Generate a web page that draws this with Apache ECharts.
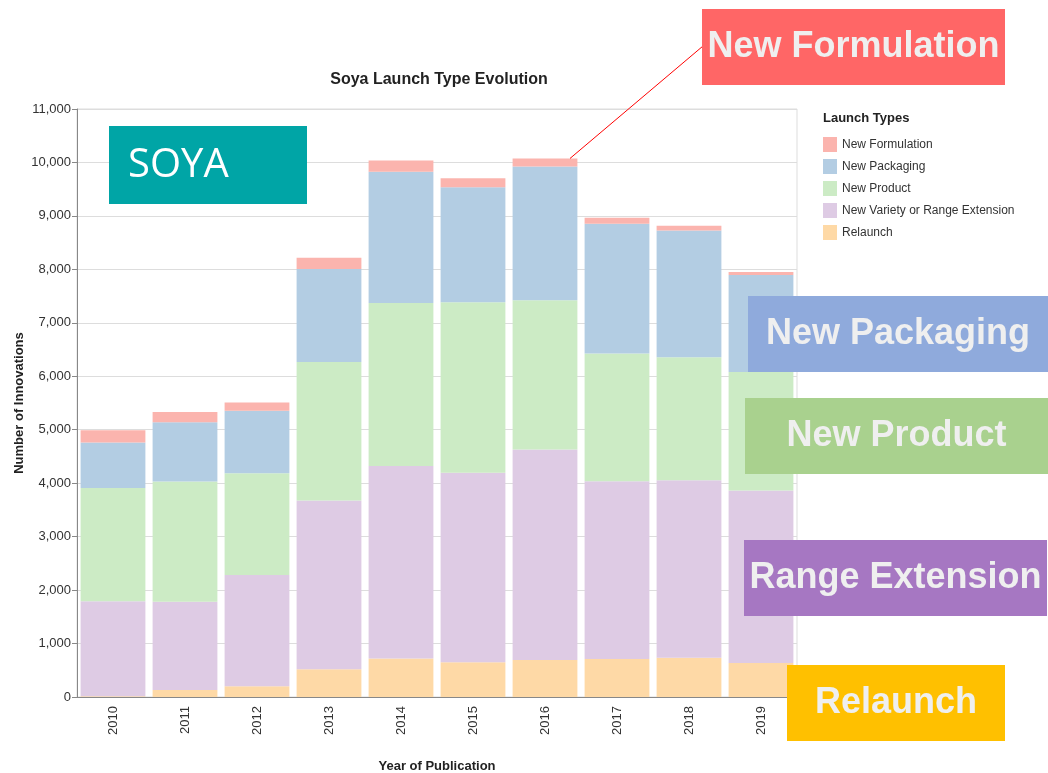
<!DOCTYPE html>
<html>
<head>
<meta charset="utf-8">
<script src="https://cdn.jsdelivr.net/npm/echarts@6/dist/echarts.min.js"></script>
<style>
  html, body { margin: 0; padding: 0; background: #fff; }
  #chart { width: 1048px; height: 773px; }
</style>
</head>
<body>
<div id="chart"></div>
<script>
// Soya launch types per year
const years = ["2010", "2011", "2012", "2013", "2014", "2015", "2016", "2017", "2018", "2019"];
const relaunch = [15, 130, 200, 517, 720, 650, 690, 710, 735, 636];
const variety = [1775, 1650, 2080, 3160, 3600, 3545, 3940, 3327, 3321, 3228];
const product = [2120, 2250, 1905, 2590, 3050, 3190, 2790, 2387, 2299, 2216];
const packaging = [850, 1110, 1170, 1740, 2455, 2150, 2505, 2430, 2374, 1814];
const formulation = [230, 190, 155, 210, 210, 170, 150, 112, 87, 56];
const yTicks = { min: 0, max: 11000, interval: 1000 };

const FONT = "Liberation Sans, Arial, sans-serif";
const labelColor = "#333";

const seriesDefs = [
  { name: "Relaunch", data: relaunch, color: "#fed9a6" },
  { name: "New Variety or Range Extension", data: variety, color: "#decbe4" },
  { name: "New Product", data: product, color: "#ccebc5" },
  { name: "New Packaging", data: packaging, color: "#b3cde3" },
  { name: "New Formulation", data: formulation, color: "#fbb4ae" },
];

const chart = echarts.init(document.getElementById("chart"), null, { renderer: "canvas" });

// coloured call-out boxes laid over the chart
function callout(x, y, w, h, fill, text, opts) {
  opts = opts || {};
  return [
    { type: "rect", zlevel: 1, z: 100, shape: { x: x, y: y, width: w, height: h }, style: { fill: fill } },
    {
      type: "text",
      zlevel: 1,
      z: 101,
      x: opts.left != null ? x + opts.left : x + w / 2,
      y: y + h / 2 + (opts.dy || 0),
      style: {
        text: text,
        fill: opts.color || "#efefef",
        font: opts.font || "bold 36px " + FONT,
        textAlign: opts.left != null ? "left" : "center",
        textVerticalAlign: "middle",
      },
    },
  ];
}

const option = {
  animation: false,
  grid: {
    left: 77, right: 251, top: 109, bottom: 76,
    outerBoundsMode: "none",
    containLabel: false,
    show: true, borderColor: "#ddd", borderWidth: 1,
  },
  legend: {
    orient: "vertical",
    left: 823,
    top: 137,
    padding: 0,
    icon: "rect",
    itemWidth: 14,
    itemHeight: 15,
    itemGap: 7,
    data: ["New Formulation", "New Packaging", "New Product", "New Variety or Range Extension", "Relaunch"],
    textStyle: { fontFamily: FONT, fontSize: 12, color: labelColor },
    selectedMode: false,
  },
  xAxis: {
    type: "category",
    data: years,
    name: "Year of Publication",
    nameLocation: "middle",
    nameGap: 63,
    nameTextStyle: { fontFamily: FONT, fontSize: 13, fontWeight: "bold", color: "#222" },
    axisLine: { lineStyle: { color: "#888" } },
    axisTick: { alignWithLabel: true, length: 5, lineStyle: { color: "#888" } },
    axisLabel: { rotate: 90, margin: 9, fontFamily: FONT, fontSize: 13, color: labelColor },
  },
  yAxis: {
    type: "value",
    min: yTicks.min,
    max: yTicks.max,
    interval: yTicks.interval,
    name: "Number of Innovations",
    nameLocation: "middle",
    nameGap: 51,
    nameMoveOverlap: false,
    nameTextStyle: { fontFamily: FONT, fontSize: 13, fontWeight: "bold", color: "#222" },
    axisLine: { show: true, lineStyle: { color: "#888" } },
    axisTick: { show: true, length: 5, lineStyle: { color: "#888" } },
    axisLabel: {
      margin: 6,
      fontFamily: FONT,
      fontSize: 13,
      color: labelColor,
      formatter: (v) => v.toLocaleString("en-US"),
    },
    splitLine: { lineStyle: { color: "#ddd" } },
  },
  series: seriesDefs.map((s) => ({
    name: s.name,
    type: "bar",
    stack: "total",
    data: s.data,
    barCategoryGap: "10%",
    itemStyle: { color: s.color },
    emphasis: { disabled: true },
  })),
  graphic: [
    {
      type: "text",
      x: 439,
      y: 80,
      style: {
        text: "Soya Launch Type Evolution",
        font: "bold 16px " + FONT,
        fill: "#222",
        textAlign: "center",
        textVerticalAlign: "middle",
      },
    },
    {
      type: "text",
      x: 823,
      y: 118,
      style: {
        text: "Launch Types",
        font: "bold 13px " + FONT,
        fill: "#222",
        textAlign: "left",
        textVerticalAlign: "middle",
      },
    },
  ],
};

chart.setOption(option);

// leader line from the 2016 bar top to the "New Formulation" box
const idx2016 = years.indexOf("2016");
const total2016 = relaunch[idx2016] + variety[idx2016] + product[idx2016] + packaging[idx2016] + formulation[idx2016];
const top2016 = chart.convertToPixel({ gridIndex: 0 }, [idx2016, total2016]);

chart.setOption({
  graphic: option.graphic.concat(
    [{
      type: "line",
      zlevel: 1,
      z: 99,
      shape: { x1: top2016[0] + 25, y1: top2016[1], x2: 703, y2: 46 },
      style: { stroke: "#ff0000", lineWidth: 1 },
    }],
    callout(702, 9, 303, 76, "#ff6666", "New Formulation"),
    callout(109, 126, 198, 78, "#00a5a6", "SOYA", { left: 19, font: "40px Open Sans, sans-serif", color: "#ffffff", dy: 1 }),
    callout(748, 296, 300, 76, "#8faadc", "New Packaging"),
    callout(745, 398, 303, 76, "#a9d18e", "New Product"),
    callout(744, 540, 303, 76, "#a677c2", "Range Extension"),
    callout(787, 665, 218, 76, "#ffc000", "Relaunch")
  ),
});
</script>
</body>
</html>
